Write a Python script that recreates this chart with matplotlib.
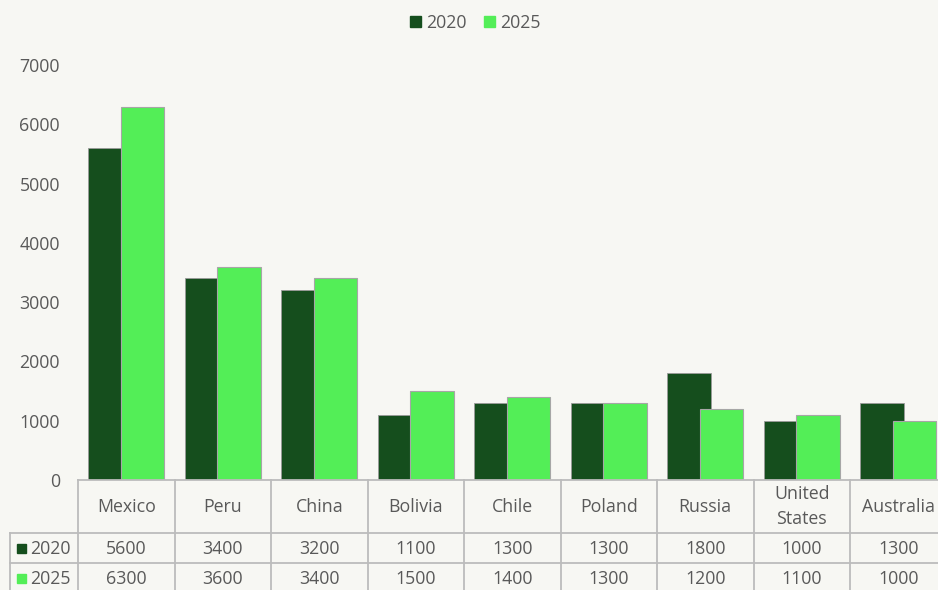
import matplotlib.pyplot as plt
from matplotlib.patches import Rectangle, Patch

countries = ["Mexico", "Peru", "China", "Bolivia", "Chile", "Poland",
             "Russia", "United\nStates", "Australia"]
years = ["2020", "2025"]
values_2020 = [5600, 3400, 3200, 1100, 1300, 1300, 1800, 1000, 1300]
values_2025 = [6300, 3600, 3400, 1500, 1400, 1300, 1200, 1100, 1000]

bg = "#F7F7F3"
dark = "#154E1D"
light = "#53EE57"
grey_text = "#595959"
grid_grey = "#BCBCBC"
fs = 12.8

plt.rcParams["font.family"] = ["Open Sans", "DejaVu Sans"]

W, H = 938, 590
fig = plt.figure(figsize=(W / 100, H / 100), dpi=100, facecolor=bg)

# pixel layout of the plot area
left_px, cat_px = 78, 96.5
top_px, zero_px = 65, 480
n = len(countries)

ax = fig.add_axes([left_px / W, (H - zero_px) / H, n * cat_px / W, (zero_px - top_px) / H])
ax.set_facecolor(bg)

x = list(range(n))
bw, off = 0.45, 0.17
ax.bar([i - off for i in x], values_2020, width=bw, color=dark,
       edgecolor="#9A9A9A", linewidth=0.6, zorder=2)
ax.bar([i + off for i in x], values_2025, width=bw, color=light,
       edgecolor="#A6A6A6", linewidth=0.8, zorder=3)

ax.set_xlim(-0.5, n - 0.5)
ax.set_ylim(0, 7000)
ax.set_yticks(range(0, 7001, 1000))
ax.set_xticks([])
ax.tick_params(axis="y", length=0, pad=13, labelsize=fs, labelcolor=grey_text)
for s in ax.spines.values():
    s.set_visible(False)

# data table underneath, drawn in pixel rows
label_px = 10
tab = fig.add_axes([label_px / W, (H - 600) / H, (left_px + n * cat_px - label_px) / W, (600 - zero_px) / H])
tab.set_xlim(-0.5 - (left_px - label_px) / cat_px, n - 0.5)
tab.set_ylim(600, zero_px)
tab.axis("off")
tab.patch.set_alpha(0)

row_lines = [zero_px, 533, 563, 593]
lw = 1.3
x0 = tab.get_xlim()[0]
# top of header row
tab.plot([-0.5, n - 0.5], [row_lines[0]] * 2, color=grid_grey, lw=lw, clip_on=False)
for y in row_lines[1:]:
    tab.plot([x0, n - 0.5], [y] * 2, color=grid_grey, lw=lw, clip_on=False)
for i in range(n + 1):
    tab.plot([i - 0.5] * 2, [row_lines[0], row_lines[-1]], color=grid_grey, lw=lw, clip_on=False)
tab.plot([x0] * 2, [row_lines[1], row_lines[-1]], color=grid_grey, lw=lw, clip_on=False)

for i, name in enumerate(countries):
    tab.text(i, (row_lines[0] + row_lines[1]) / 2, name, ha="center", va="center",
             fontsize=fs, color=grey_text, linespacing=1.45)

rows = [values_2020, values_2025]
colors = [dark, light]
for r, (yr, vals, c) in enumerate(zip(years, rows, colors)):
    yc = (row_lines[r + 1] + row_lines[r + 2]) / 2 + 0.5
    for i, v in enumerate(vals):
        tab.text(i, yc, str(v), ha="center", va="center", fontsize=fs, color=grey_text)
    sq = 9 / cat_px
    tab.add_patch(Rectangle((x0 + 7 / cat_px, yc - 4.5), sq, 9, color=c, clip_on=False))
    tab.text(x0 + 20 / cat_px, yc, yr, ha="left", va="center", fontsize=fs, color=grey_text)

handles = [Patch(color=dark), Patch(color=light)]
fig.legend(handles, years, loc="upper center", bbox_to_anchor=(0.507, 1.004), ncol=2,
           frameon=False, handlelength=0.6, handleheight=0.6, handletextpad=0.3,
           columnspacing=1.0, labelcolor=grey_text, fontsize=fs)

fig.savefig("out.png", dpi=100, facecolor=bg)
